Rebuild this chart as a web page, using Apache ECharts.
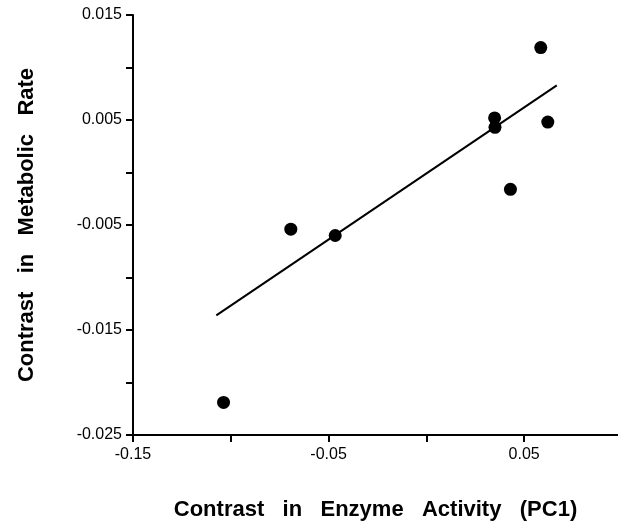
<!DOCTYPE html>
<html>
<head>
<meta charset="utf-8">
<title>Metabolic rate vs enzyme activity</title>
<script src="https://cdn.jsdelivr.net/npm/echarts@6/dist/echarts.min.js"></script>
<style>
  html, body { margin: 0; padding: 0; background: #fff; }
  #chart { width: 618px; height: 526px; }
</style>
</head>
<body>
<div id="chart"></div>
<script>
// 数据点
const enzymeContrast = [-0.1037, -0.0693, -0.0466, 0.0349, 0.0351, 0.0430, 0.0585, 0.0621]
const metabolicContrast = [-0.0219, -0.0054, -0.0060, 0.0052, 0.0043, -0.0016, 0.0119, 0.0048]

// 回归线两端
const fitX = [-0.1074, 0.0667]
const fitY = [-0.0136, 0.0083]

const xTickLabels = ['-0.15', '-0.05', '0.05']
const yTickLabels = ['-0.025', '-0.015', '-0.005', '0.005', '0.015']

const FONT = '"Liberation Sans", Arial, Helvetica, sans-serif'

const chart = echarts.init(document.getElementById('chart'))

// 只显示带标签的刻度文字
const fmt = (list, digits) => (v) => {
  const s = v.toFixed(digits)
  return list.includes(s) ? s : ''
}

const titleStyle = {
  fontFamily: FONT,
  fontWeight: 'bold',
  fontSize: 22,
  color: '#000'
}

chart.setOption({
  backgroundColor: '#fff',
  animation: false,
  grid: {
    left: 133,
    top: 15,
    right: 0,
    height: 420
  },
  xAxis: {
    type: 'value',
    min: -0.15,
    max: 0.098,
    interval: 0.05,
    name: 'Contrast   in   Enzyme   Activity   (PC1)',
    nameLocation: 'middle',
    nameGap: 64,
    nameTextStyle: titleStyle,
    axisLine: { onZero: false, lineStyle: { color: '#000', width: 2 } },
    axisTick: { length: 7, lineStyle: { color: '#000', width: 2 } },
    splitLine: { show: false },
    axisLabel: {
      color: '#000',
      fontFamily: FONT,
      fontSize: 16,
      margin: 12,
      showMaxLabel: false,
      formatter: fmt(xTickLabels, 2)
    }
  },
  yAxis: {
    type: 'value',
    min: -0.025,
    max: 0.015,
    interval: 0.005,
    name: 'Contrast   in   Metabolic   Rate',
    nameLocation: 'middle',
    nameGap: 95,
    nameTextStyle: titleStyle,
    axisLine: { onZero: false, lineStyle: { color: '#000', width: 2 } },
    axisTick: { length: 7, lineStyle: { color: '#000', width: 2 } },
    splitLine: { show: false },
    axisLabel: {
      color: '#000',
      fontFamily: FONT,
      fontSize: 16,
      margin: 11,
      formatter: fmt(yTickLabels, 3)
    }
  },
  series: [
    {
      type: 'line',
      data: fitX.map((x, i) => [x, fitY[i]]),
      symbol: 'none',
      lineStyle: { color: '#000', width: 2 },
      z: 2
    },
    {
      type: 'scatter',
      data: enzymeContrast.map((x, i) => [x, metabolicContrast[i]]),
      symbol: 'circle',
      symbolSize: 13,
      itemStyle: { color: '#000', opacity: 1 },
      z: 3
    }
  ]
})
</script>
</body>
</html>
